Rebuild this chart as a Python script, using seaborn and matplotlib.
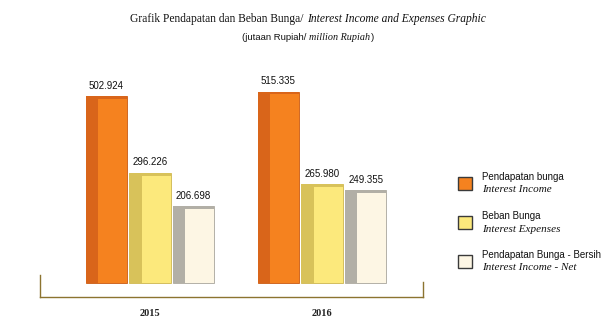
import matplotlib
matplotlib.use("Agg")
import matplotlib.pyplot as plt
import seaborn as sns
import pandas as pd
import numpy as np
from matplotlib.patches import Rectangle

years = ["2015", "2016"]
series = ["Pendapatan bunga", "Beban Bunga", "Pendapatan Bunga - Bersih"]
series_en = ["Interest Income", "Interest Expenses", "Interest Income - Net"]
income = [502.924, 515.335]
expenses = [296.226, 265.980]
net = [206.698, 249.355]

face_colors = ["#F5821F", "#FCE97C", "#FDF6E4"]
side_colors = ["#D9651A", "#D8C25A", "#B2AFA6"]
edge_colors = ["#C85A14", "#CDB64E", "#A8A59C"]

df = pd.DataFrame({
    "year": years * 3,
    "series": [s for s in series for _ in years],
    "value": income + expenses + net,
})

sns.set_theme(style="white")
plt.rcParams["font.family"] = ["Liberation Sans", "DejaVu Sans"]

fig = plt.figure(figsize=(6.06, 3.32), dpi=100)
ax = fig.add_axes([40 / 606, 1 - 297 / 332, (423 - 40) / 606, (297 - 60) / 332])

sns.barplot(data=df, x="year", y="value", hue="series", hue_order=series,
            order=years, palette=face_colors, width=0.76, gap=0.05,
            legend=False, ax=ax, linewidth=0.6, saturation=1)

ax.set_xlim(-0.64, 1.587)
ax.set_ylim(-37, 600)

# pseudo-3D shading
for ci, cont in enumerate(ax.containers):
    for p in cont.patches:
        p.set_edgecolor(edge_colors[ci])
        x, w, h = p.get_x(), p.get_width(), p.get_height()
        ax.add_patch(Rectangle((x, 0), w * 0.3, h, facecolor=side_colors[ci],
                               edgecolor="none", zorder=p.get_zorder() + 0.1))
        ax.add_patch(Rectangle((x, h - 8), w, 8, facecolor=side_colors[ci],
                               edgecolor="none", zorder=p.get_zorder() + 0.1))
    vals = [p.get_height() for p in cont.patches]
    ax.bar_label(cont, labels=[f"{v:.3f}" for v in vals], padding=4,
                 fontsize=7, color="#111111")

ax.set_xlabel("")
ax.set_ylabel("")
ax.set_xticks([])
ax.set_yticks([])
spine_c = "#8C7430"
for s in ["left", "right", "bottom"]:
    ax.spines[s].set_visible(True)
    ax.spines[s].set_color(spine_c)
    ax.spines[s].set_linewidth(1.0)
ax.spines["top"].set_visible(False)
ax.spines["left"].set_bounds(-37, 22)
ax.spines["right"].set_bounds(-37, 3)

for i, yr in enumerate(years):
    ax.text(i, -37 - 16 / 0.372, yr, ha="center", va="center", fontsize=7.5,
            fontweight="bold", family="Liberation Serif", color="#222222")

# title with mixed fonts
def mixed_line(segments, y, fig):
    r = fig.canvas.get_renderer()
    texts = []
    for txt, kw in segments:
        t = fig.text(0, y, txt, va="center", ha="left", **kw)
        texts.append(t)
    widths = [t.get_window_extent(r).width for t in texts]
    total = sum(widths)
    x = (fig.bbox.width - total) / 2 + 5
    for t, w in zip(texts, widths):
        t.set_x(x / fig.bbox.width)
        x += w

mixed_line([("Grafik Pendapatan dan Beban Bunga/ ", dict(family="Liberation Serif", fontsize=8.3, color="#111111")),
            ("Interest Income and Expenses Graphic", dict(family="Liberation Serif", style="italic", fontsize=8.3, color="#111111"))],
           1 - 19 / 332, fig)
mixed_line([("(jutaan Rupiah/ ", dict(family="Liberation Sans", fontsize=6.8, color="#111111")),
            ("million Rupiah", dict(family="Liberation Serif", style="italic", fontsize=7.3, color="#111111")),
            (")", dict(family="Liberation Sans", fontsize=6.8, color="#111111"))],
           1 - 38 / 332, fig)

# legend
leg_y = [184, 223, 262]
for i in range(3):
    yc = leg_y[i]
    fig.add_artist(Rectangle((458 / 606, 1 - (yc + 6) / 332), 14 / 606, 13 / 332,
                             facecolor=face_colors[i], edgecolor="#3a3a3a", linewidth=1.0,
                             transform=fig.transFigure))
    fig.text(482 / 606, 1 - (yc - 7) / 332, series[i], fontsize=7, family="Liberation Sans",
             va="center", ha="left", color="#111111")
    fig.text(482 / 606, 1 - (yc + 6) / 332, series_en[i], fontsize=8, family="Liberation Serif",
             style="italic", va="center", ha="left", color="#111111")

fig.savefig("out.png", dpi=100)
